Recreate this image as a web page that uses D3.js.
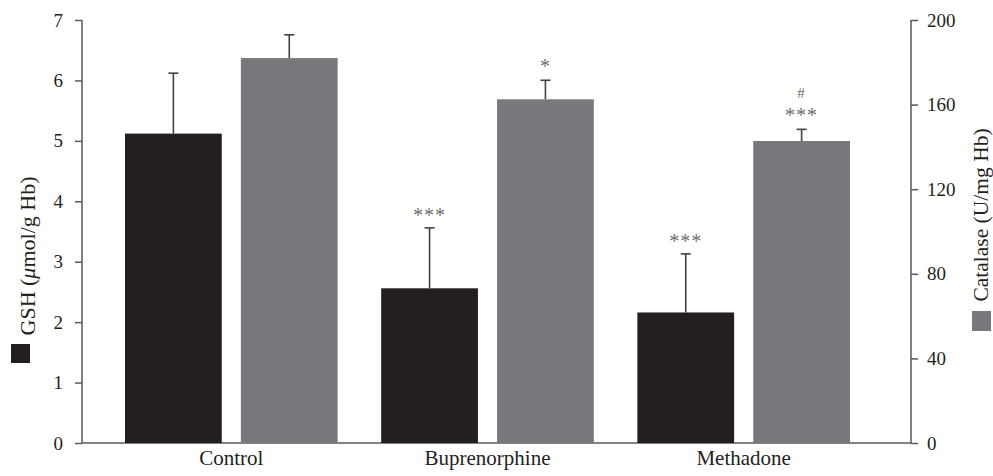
<!DOCTYPE html>
<html>
<head>
<meta charset="utf-8">
<script src="https://cdn.jsdelivr.net/npm/d3@7"></script>
<style>
  body { margin: 0; background: #fff; }
  svg { font-family: "Liberation Serif", "DejaVu Serif", serif; }
</style>
</head>
<body>
<svg id="chart" width="993" height="476"></svg>
<script>
// data
const groups = ["Control", "Buprenorphine", "Methadone"];
const gshMean = [5.12, 2.56, 2.16];
const gshErr = [1.0, 1.0, 0.97];
const catMean = [182, 162.5, 142.8];
const catErr = [11, 9, 5.5];
const gshMarks = ["", "***", "***"];
const catMarks = [[], ["*"], ["***", "#"]];
const gshTicks = [0, 1, 2, 3, 4, 5, 6, 7];
const catTicks = [0, 40, 80, 120, 160, 200];

const svg = d3.select("#chart");
const axisCol = "#58595b";
const black = "#231f20", grey = "#77787b";

const plotL = 82, plotR = 911, plotB = 443, plotT = 20;

const x = d3.scaleBand().domain(groups).range([125, 850]).paddingInner(0.17).paddingOuter(0);
const sub = d3.scaleBand().domain(["gsh", "cat"]).range([0, x.bandwidth()]).paddingInner(0.165);
const yL = d3.scaleLinear().domain([0, 7]).range([plotB, plotT]);
const yR = d3.scaleLinear().domain([0, 200]).range([plotB, plotT]);

// axes
const gl = svg.append("g").attr("transform", `translate(${plotL},0)`)
  .call(d3.axisLeft(yL).tickValues(gshTicks).tickSize(7).tickPadding(12).tickFormat(d3.format("d")));
const gr = svg.append("g").attr("transform", `translate(${plotR},0)`)
  .call(d3.axisRight(yR).tickValues(catTicks).tickSize(7).tickPadding(9).tickFormat(d3.format("d")));
[gl, gr].forEach(g => {
  g.select(".domain").remove();
  g.selectAll("line").attr("stroke", axisCol).attr("stroke-width", 1.5);
  g.selectAll("text").attr("font-size", 19).attr("fill", "#231f20")
    .attr("font-family", "Liberation Serif, serif");
});
svg.append("path").attr("d", `M${plotL},${plotT}V${plotB}H${plotR}V${plotT}`)
  .attr("fill", "none").attr("stroke", axisCol).attr("stroke-width", 1.5);

// category labels
svg.append("g").selectAll("text").data(groups).join("text")
  .attr("x", d => x(d) + x.bandwidth() / 2)
  .attr("y", 465)
  .attr("text-anchor", "middle")
  .attr("font-size", 21)
  .attr("fill", "#231f20")
  .text(d => d);

// bars
const bars = svg.append("g");

function errBar(cx, y0, y1) {
  bars.append("line").attr("x1", cx).attr("x2", cx).attr("y1", y0).attr("y2", y1)
    .attr("stroke", "#414042").attr("stroke-width", 1.6);
  bars.append("line").attr("x1", cx - 5).attr("x2", cx + 5).attr("y1", y1).attr("y2", y1)
    .attr("stroke", "#414042").attr("stroke-width", 1.6);
}

groups.forEach((g, i) => {
  const bx = x(g) + sub("gsh"), cx = x(g) + sub("cat");
  const w = sub.bandwidth();
  errBar(bx + w / 2, yL(gshMean[i]), yL(gshMean[i] + gshErr[i]));
  errBar(cx + w / 2, yR(catMean[i]), yR(catMean[i] + catErr[i]));
  bars.append("rect").attr("x", bx).attr("width", w)
    .attr("y", yL(gshMean[i])).attr("height", plotB - yL(gshMean[i])).attr("fill", black);
  bars.append("rect").attr("x", cx).attr("width", w)
    .attr("y", yR(catMean[i])).attr("height", plotB - yR(catMean[i])).attr("fill", grey);

  if (gshMarks[i]) {
    svg.append("text").attr("x", bx + w / 2).attr("y", yL(gshMean[i] + gshErr[i]) - 6)
      .attr("text-anchor", "middle").attr("font-size", 20).attr("fill", "#6d6e71")
      .attr("letter-spacing", 1).text(gshMarks[i]);
  }
  catMarks[i].forEach((m, k) => {
    svg.append("text").attr("x", cx + w / 2).attr("y", yR(catMean[i] + catErr[i]) - 7 - k * 24)
      .attr("text-anchor", "middle").attr("font-size", m === "#" ? 15 : 20).attr("fill", "#6d6e71")
      .attr("letter-spacing", 1).text(m);
  });
});

// axis titles with legend squares
svg.append("text").attr("transform", "translate(35,256) rotate(-90)")
  .attr("text-anchor", "middle").attr("font-size", 22).attr("fill", "#231f20")
  .html('GSH (<tspan font-style="italic">μ</tspan>mol/g Hb)');
svg.append("rect").attr("x", 11).attr("y", 344).attr("width", 19).attr("height", 19).attr("fill", black);

svg.append("text").attr("transform", "translate(988,215) rotate(-90)")
  .attr("text-anchor", "middle").attr("font-size", 21.5).attr("fill", "#231f20")
  .text("Catalase (U/mg Hb)");
svg.append("rect").attr("x", 972).attr("y", 311).attr("width", 19).attr("height", 20).attr("fill", grey);
</script>
</body>
</html>
